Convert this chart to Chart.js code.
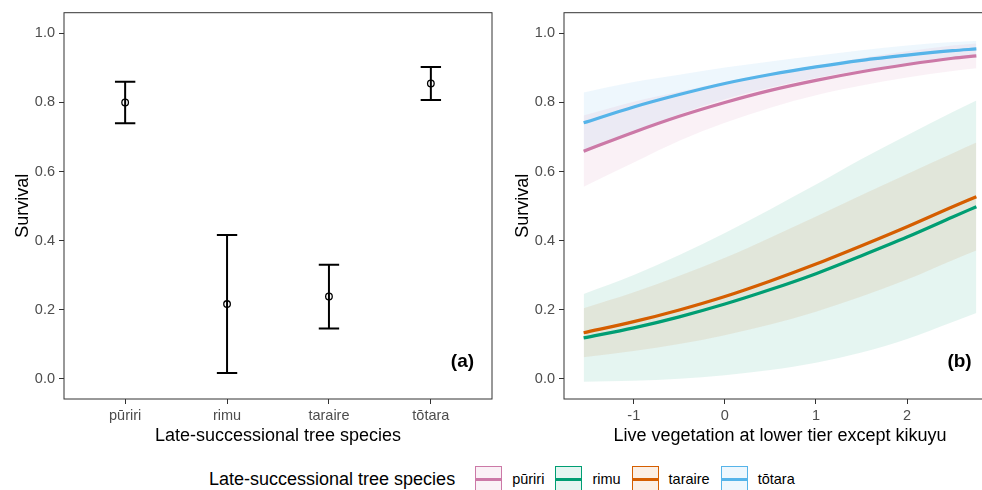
<!DOCTYPE html>
<html><head><meta charset="utf-8">
<script src="https://cdn.jsdelivr.net/npm/chart.js@4.4.1/dist/chart.umd.min.js"></script>
<style>
html,body{margin:0;padding:0;background:#fff;width:982px;height:490px;overflow:hidden;position:relative;font-family:"Liberation Sans",Arial,sans-serif;}
#cA{position:absolute;left:0;top:0;}
#cB{position:absolute;left:492px;top:0;}
#legend{position:absolute;left:209px;top:466px;height:26px;display:flex;align-items:center;white-space:nowrap;}
#legend .title{font-size:18px;color:#000;margin-right:9px;}
#legend .key{box-sizing:border-box;width:27px;height:26px;border:1.5px solid;position:relative;margin-left:11px;}
#legend .key i{position:absolute;left:0;right:0;top:50%;height:3px;margin-top:-1.5px;}
#legend .lab{font-size:14.5px;color:#000;margin-left:10px;}
</style></head><body>
<canvas id="cA" width="500" height="460"></canvas>
<canvas id="cB" width="512" height="460"></canvas>
<div id="legend"></div>
<script>
// ---------- data ----------
const categories = ['pūriri', 'rimu', 'taraire', 'tōtara'];
const survival   = [0.800, 0.216, 0.238, 0.855];
const survLower  = [0.740, 0.016, 0.145, 0.807];
const survUpper  = [0.860, 0.416, 0.330, 0.903];

const yTicks  = [0, 0.2, 0.4, 0.6, 0.8, 1.0];
const xTicksB = [-1, 0, 1, 2];

const vegX = [-1.55, -1, -0.5, 0, 0.5, 1, 1.5, 2, 2.5, 2.76];

const puririFit = [0.659, 0.714, 0.760, 0.800, 0.835, 0.864, 0.889, 0.910, 0.928, 0.935];
const puririLo  = [0.556, 0.626, 0.689, 0.741, 0.785, 0.821, 0.849, 0.872, 0.891, 0.899];
const puririHi  = [0.762, 0.802, 0.831, 0.859, 0.885, 0.907, 0.929, 0.948, 0.965, 0.971];

const rimuFit = [0.118, 0.147, 0.179, 0.216, 0.258, 0.304, 0.356, 0.410, 0.468, 0.498];
const rimuLo  = [-0.009, -0.006, 0.000, 0.010, 0.025, 0.046, 0.076, 0.115, 0.164, 0.190];
const rimuHi  = [0.245, 0.300, 0.358, 0.422, 0.491, 0.562, 0.636, 0.705, 0.772, 0.806];

const taraireFit = [0.133, 0.165, 0.199, 0.238, 0.283, 0.332, 0.385, 0.440, 0.498, 0.527];
const taraireLo  = [0.062, 0.080, 0.100, 0.126, 0.157, 0.194, 0.238, 0.287, 0.343, 0.371];
const taraireHi  = [0.204, 0.250, 0.298, 0.350, 0.409, 0.470, 0.532, 0.593, 0.653, 0.684];

const totaraFit = [0.741, 0.787, 0.823, 0.855, 0.881, 0.903, 0.922, 0.937, 0.950, 0.955];
const totaraLo  = [0.653, 0.715, 0.766, 0.809, 0.843, 0.871, 0.893, 0.909, 0.925, 0.932];
const totaraHi  = [0.829, 0.859, 0.880, 0.901, 0.919, 0.935, 0.951, 0.965, 0.975, 0.978];

const speciesColors = ['#CC79A7', '#009E73', '#D55E00', '#56B4E9'];
const legendTitle = 'Late-successional tree species';
const xTitleA = 'Late-successional tree species';
const xTitleB = 'Live vegetation at lower tier except kikuyu';
const yTitle = 'Survival';

// ---------- helpers ----------
const FONT = '"Liberation Sans", Arial, sans-serif';
Chart.defaults.font.family = FONT;
const Y_MIN = -0.059, Y_MAX = 1.06;
const CAP = 0.1;
const TICK_FONT = {size: 14.5};
const TITLE_FONT = {size: 18};
function rgba(hex, a) {
  const n = parseInt(hex.slice(1), 16);
  return `rgba(${(n>>16)&255},${(n>>8)&255},${n&255},${a})`;
}
const pts = (xs, ys) => xs.map((x, i) => ({x, y: ys[i]}));

const borderPlugin = {
  id: 'panelBorder',
  afterDatasetsDraw(chart, args, opts) {
    const {ctx, chartArea: a, scales} = chart;
    ctx.save();
    ctx.strokeStyle = '#333333';
    ctx.lineWidth = 1;
    ctx.strokeRect(a.left, a.top, a.right - a.left, a.bottom - a.top);
    if (opts.text) {
      ctx.fillStyle = '#000';
      ctx.font = 'bold 19px ' + FONT;
      ctx.textAlign = 'center';
      ctx.textBaseline = 'middle';
      ctx.fillText(opts.text, scales.x.getPixelForValue(opts.x), scales.y.getPixelForValue(opts.y));
    }
    ctx.restore();
  }
};

function yAxis(width, titlePad) {
  return {
    type: 'linear', min: Y_MIN, max: Y_MAX,
    afterBuildTicks: s => { s.ticks = yTicks.map(v => ({value: v})); },
    afterFit: s => { s.width = width; },
    ticks: {callback: v => Number(v).toFixed(1), color: '#4D4D4D', font: TICK_FONT, padding: 4},
    grid: {drawOnChartArea: false, drawTicks: true, tickLength: 5, tickColor: '#333333', tickWidth: 1},
    border: {display: false},
    title: {display: true, text: yTitle, color: '#000', font: TITLE_FONT, padding: {top: titlePad, bottom: 0}}
  };
}
function xAxis(extra, title, tickCb) {
  return Object.assign({
    type: 'linear',
    afterFit: s => { s.height = 61; },
    ticks: {callback: tickCb, color: '#4D4D4D', font: TICK_FONT, padding: 3, maxRotation: 0, autoSkip: false},
    grid: {drawOnChartArea: false, drawTicks: true, tickLength: 5, tickColor: '#333333', tickWidth: 1},
    border: {display: false},
    title: {display: true, text: title, color: '#000', font: TITLE_FONT, padding: {top: 0, bottom: 13}}
  }, extra);
}

// ---------- panel (a) ----------
const whiskers = [], caps = [];
categories.forEach((c, i) => {
  const xi = i + 1;
  whiskers.push({x: xi, y: survLower[i]}, {x: xi, y: survUpper[i]}, {x: xi, y: null});
  caps.push({x: xi - CAP, y: survUpper[i]}, {x: xi + CAP, y: survUpper[i]}, {x: xi, y: null});
  caps.push({x: xi - CAP, y: survLower[i]}, {x: xi + CAP, y: survLower[i]}, {x: xi, y: null});
});

new Chart(document.getElementById('cA'), {
  type: 'line',
  data: {datasets: [
    {data: categories.map((c, i) => ({x: i + 1, y: survival[i]})), showLine: false,
     pointRadius: 3.3, pointBorderWidth: 1.3, pointBorderColor: '#000', pointBackgroundColor: 'rgba(0,0,0,0)'},
    {data: whiskers, borderColor: '#000', borderWidth: 2, pointRadius: 0, spanGaps: false, tension: 0},
    {data: caps, borderColor: '#000', borderWidth: 2, pointRadius: 0, spanGaps: false, tension: 0}
  ]},
  options: {
    responsive: false, animation: false, devicePixelRatio: 1,
    layout: {padding: {top: 11, right: 8, left: 0, bottom: 0}},
    plugins: {legend: {display: false}, tooltip: {enabled: false},
      panelBorder: {text: '(a)', x: 4.31, y: 0.05}},
    scales: {
      x: xAxis({min: 0.4, max: 4.6,
        afterBuildTicks: s => { s.ticks = categories.map((c, i) => ({value: i + 1})); }},
        xTitleA, v => categories[Math.round(v) - 1]),
      y: yAxis(64, 12)
    }
  },
  plugins: [borderPlugin]
});

// ---------- panel (b) ----------
const species = [
  {fit: puririFit, lo: puririLo, hi: puririHi},
  {fit: rimuFit, lo: rimuLo, hi: rimuHi},
  {fit: taraireFit, lo: taraireLo, hi: taraireHi},
  {fit: totaraFit, lo: totaraLo, hi: totaraHi}
];
const dsB = [];
[3, 2, 1, 0].forEach(k => {
  dsB.push({data: pts(vegX, species[k].fit), borderColor: speciesColors[k], borderWidth: 3.2,
            pointRadius: 0, cubicInterpolationMode: 'monotone', fill: false});
});
[0, 1, 2, 3].forEach(k => {
  const idx = dsB.length;
  dsB.push({data: pts(vegX, species[k].hi), borderWidth: 0, borderColor: 'rgba(0,0,0,0)', pointRadius: 0,
            cubicInterpolationMode: 'monotone', fill: idx + 1, backgroundColor: rgba(speciesColors[k], 0.1)});
  dsB.push({data: pts(vegX, species[k].lo), borderWidth: 0, borderColor: 'rgba(0,0,0,0)', pointRadius: 0,
            cubicInterpolationMode: 'monotone', fill: false});
});

new Chart(document.getElementById('cB'), {
  type: 'line',
  data: {datasets: dsB},
  options: {
    responsive: false, animation: false, devicePixelRatio: 1,
    layout: {padding: {top: 11, right: 8, left: 0, bottom: 0}},
    plugins: {legend: {display: false}, tooltip: {enabled: false},
      panelBorder: {text: '(b)', x: 2.575, y: 0.05}},
    scales: {
      x: xAxis({min: -1.7655, max: 2.9755,
        afterBuildTicks: s => { s.ticks = xTicksB.map(v => ({value: v})); }},
        xTitleB, v => String(v)),
      y: yAxis(72, 20)
    }
  },
  plugins: [borderPlugin]
});

// ---------- legend ----------
const lg = document.getElementById('legend');
const t = document.createElement('span'); t.className = 'title'; t.textContent = legendTitle; lg.appendChild(t);
categories.forEach((c, k) => {
  const key = document.createElement('span'); key.className = 'key';
  key.style.borderColor = speciesColors[k];
  key.style.background = rgba(speciesColors[k], 0.1);
  const ln = document.createElement('i'); ln.style.background = speciesColors[k]; key.appendChild(ln);
  lg.appendChild(key);
  const lab = document.createElement('span'); lab.className = 'lab'; lab.textContent = c; lg.appendChild(lab);
});
</script></body></html>
